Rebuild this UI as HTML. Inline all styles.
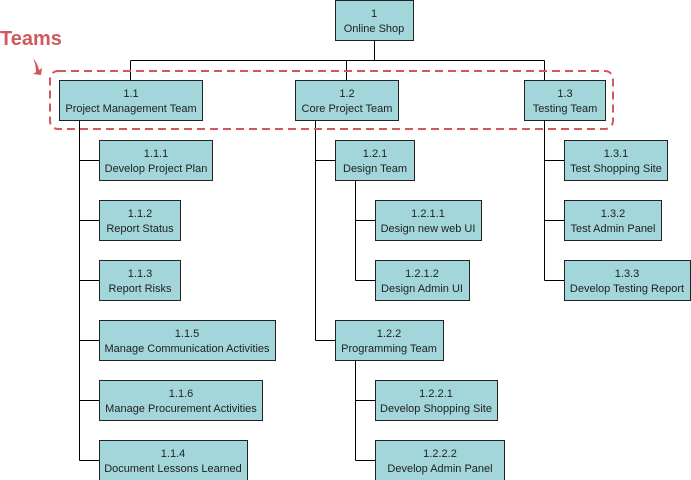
<!DOCTYPE html><html><head><style>body{margin:0;background:#fff}svg{display:block}text{font-family:"Liberation Sans",sans-serif;font-size:11px;fill:#222}</style></head><body>
<svg width="691" height="480" viewBox="0 0 691 480">
<g stroke="#000" stroke-width="1" fill="none">
<path d="M374.5 40V60.5M130.5 60.5H544.5M130.5 60.5V80M346.5 60.5V80M544.5 60.5V80"/>
<path d="M79.5 120V460.5M79.5 160.5H99M79.5 220.5H99M79.5 280.5H99M79.5 340.5H99M79.5 400.5H99M79.5 460.5H99"/>
<path d="M315.5 120V340.5M315.5 160.5H335M315.5 340.5H335M355.5 180V280.5M355.5 220.5H375M355.5 280.5H375M355.5 360V460.5M355.5 400.5H375M355.5 460.5H375"/>
<path d="M544.5 120V280.5M544.5 160.5H564M544.5 220.5H564M544.5 280.5H564"/>
</g>
<rect x="50" y="71" width="563" height="58" rx="8" fill="none" stroke="#d0595c" stroke-width="2" stroke-dasharray="8,5"/>
<text x="0" y="45" style="font-size:20px;font-weight:bold;fill:#d0595c">Teams</text>
<path d="M33 58 Q38 64 39 70 L42 68 L41 75 L33 74 L36 72 Q36 65 33 58Z" fill="#d0595c"/>
<g fill="#a2d6da" stroke="#222" stroke-width="1">
<rect x="335.5" y="0.5" width="78" height="40"/>
<rect x="59.5" y="80.5" width="143" height="40"/>
<rect x="295.5" y="80.5" width="103" height="40"/>
<rect x="524.5" y="80.5" width="81" height="40"/>
<rect x="99.5" y="140.5" width="113" height="40"/>
<rect x="99.5" y="200.5" width="81" height="40"/>
<rect x="99.5" y="260.5" width="81" height="40"/>
<rect x="99.5" y="320.5" width="176" height="40"/>
<rect x="99.5" y="380.5" width="163" height="40"/>
<rect x="99.5" y="440.5" width="148" height="40"/>
<rect x="335.5" y="140.5" width="79" height="40"/>
<rect x="375.5" y="200.5" width="106" height="40"/>
<rect x="375.5" y="260.5" width="94" height="40"/>
<rect x="335.5" y="320.5" width="108" height="40"/>
<rect x="375.5" y="380.5" width="122" height="40"/>
<rect x="375.5" y="440.5" width="129" height="40"/>
<rect x="564.5" y="140.5" width="103" height="40"/>
<rect x="564.5" y="200.5" width="97" height="40"/>
<rect x="564.5" y="260.5" width="126" height="40"/>
</g>
<g text-anchor="middle">
<text x="374" y="17">1</text><text x="374" y="32">Online Shop</text>
<text x="131" y="97">1.1</text><text x="131" y="112">Project Management Team</text>
<text x="347" y="97">1.2</text><text x="347" y="112">Core Project Team</text>
<text x="565" y="97">1.3</text><text x="565" y="112">Testing Team</text>
<text x="156" y="157">1.1.1</text><text x="156" y="172">Develop Project Plan</text>
<text x="140" y="217">1.1.2</text><text x="140" y="232">Report Status</text>
<text x="140" y="277">1.1.3</text><text x="140" y="292">Report Risks</text>
<text x="187" y="337">1.1.5</text><text x="187" y="352">Manage Communication Activities</text>
<text x="181" y="397">1.1.6</text><text x="181" y="412">Manage Procurement Activities</text>
<text x="173" y="457">1.1.4</text><text x="173" y="472">Document Lessons Learned</text>
<text x="375" y="157">1.2.1</text><text x="375" y="172">Design Team</text>
<text x="428" y="217">1.2.1.1</text><text x="428" y="232">Design new web UI</text>
<text x="422" y="277">1.2.1.2</text><text x="422" y="292">Design Admin UI</text>
<text x="389" y="337">1.2.2</text><text x="389" y="352">Programming Team</text>
<text x="436" y="397">1.2.2.1</text><text x="436" y="412">Develop Shopping Site</text>
<text x="440" y="457">1.2.2.2</text><text x="440" y="472">Develop Admin Panel</text>
<text x="616" y="157">1.3.1</text><text x="616" y="172">Test Shopping Site</text>
<text x="613" y="217">1.3.2</text><text x="613" y="232">Test Admin Panel</text>
<text x="627" y="277">1.3.3</text><text x="627" y="292">Develop Testing Report</text>
</g>
</svg></body></html>
